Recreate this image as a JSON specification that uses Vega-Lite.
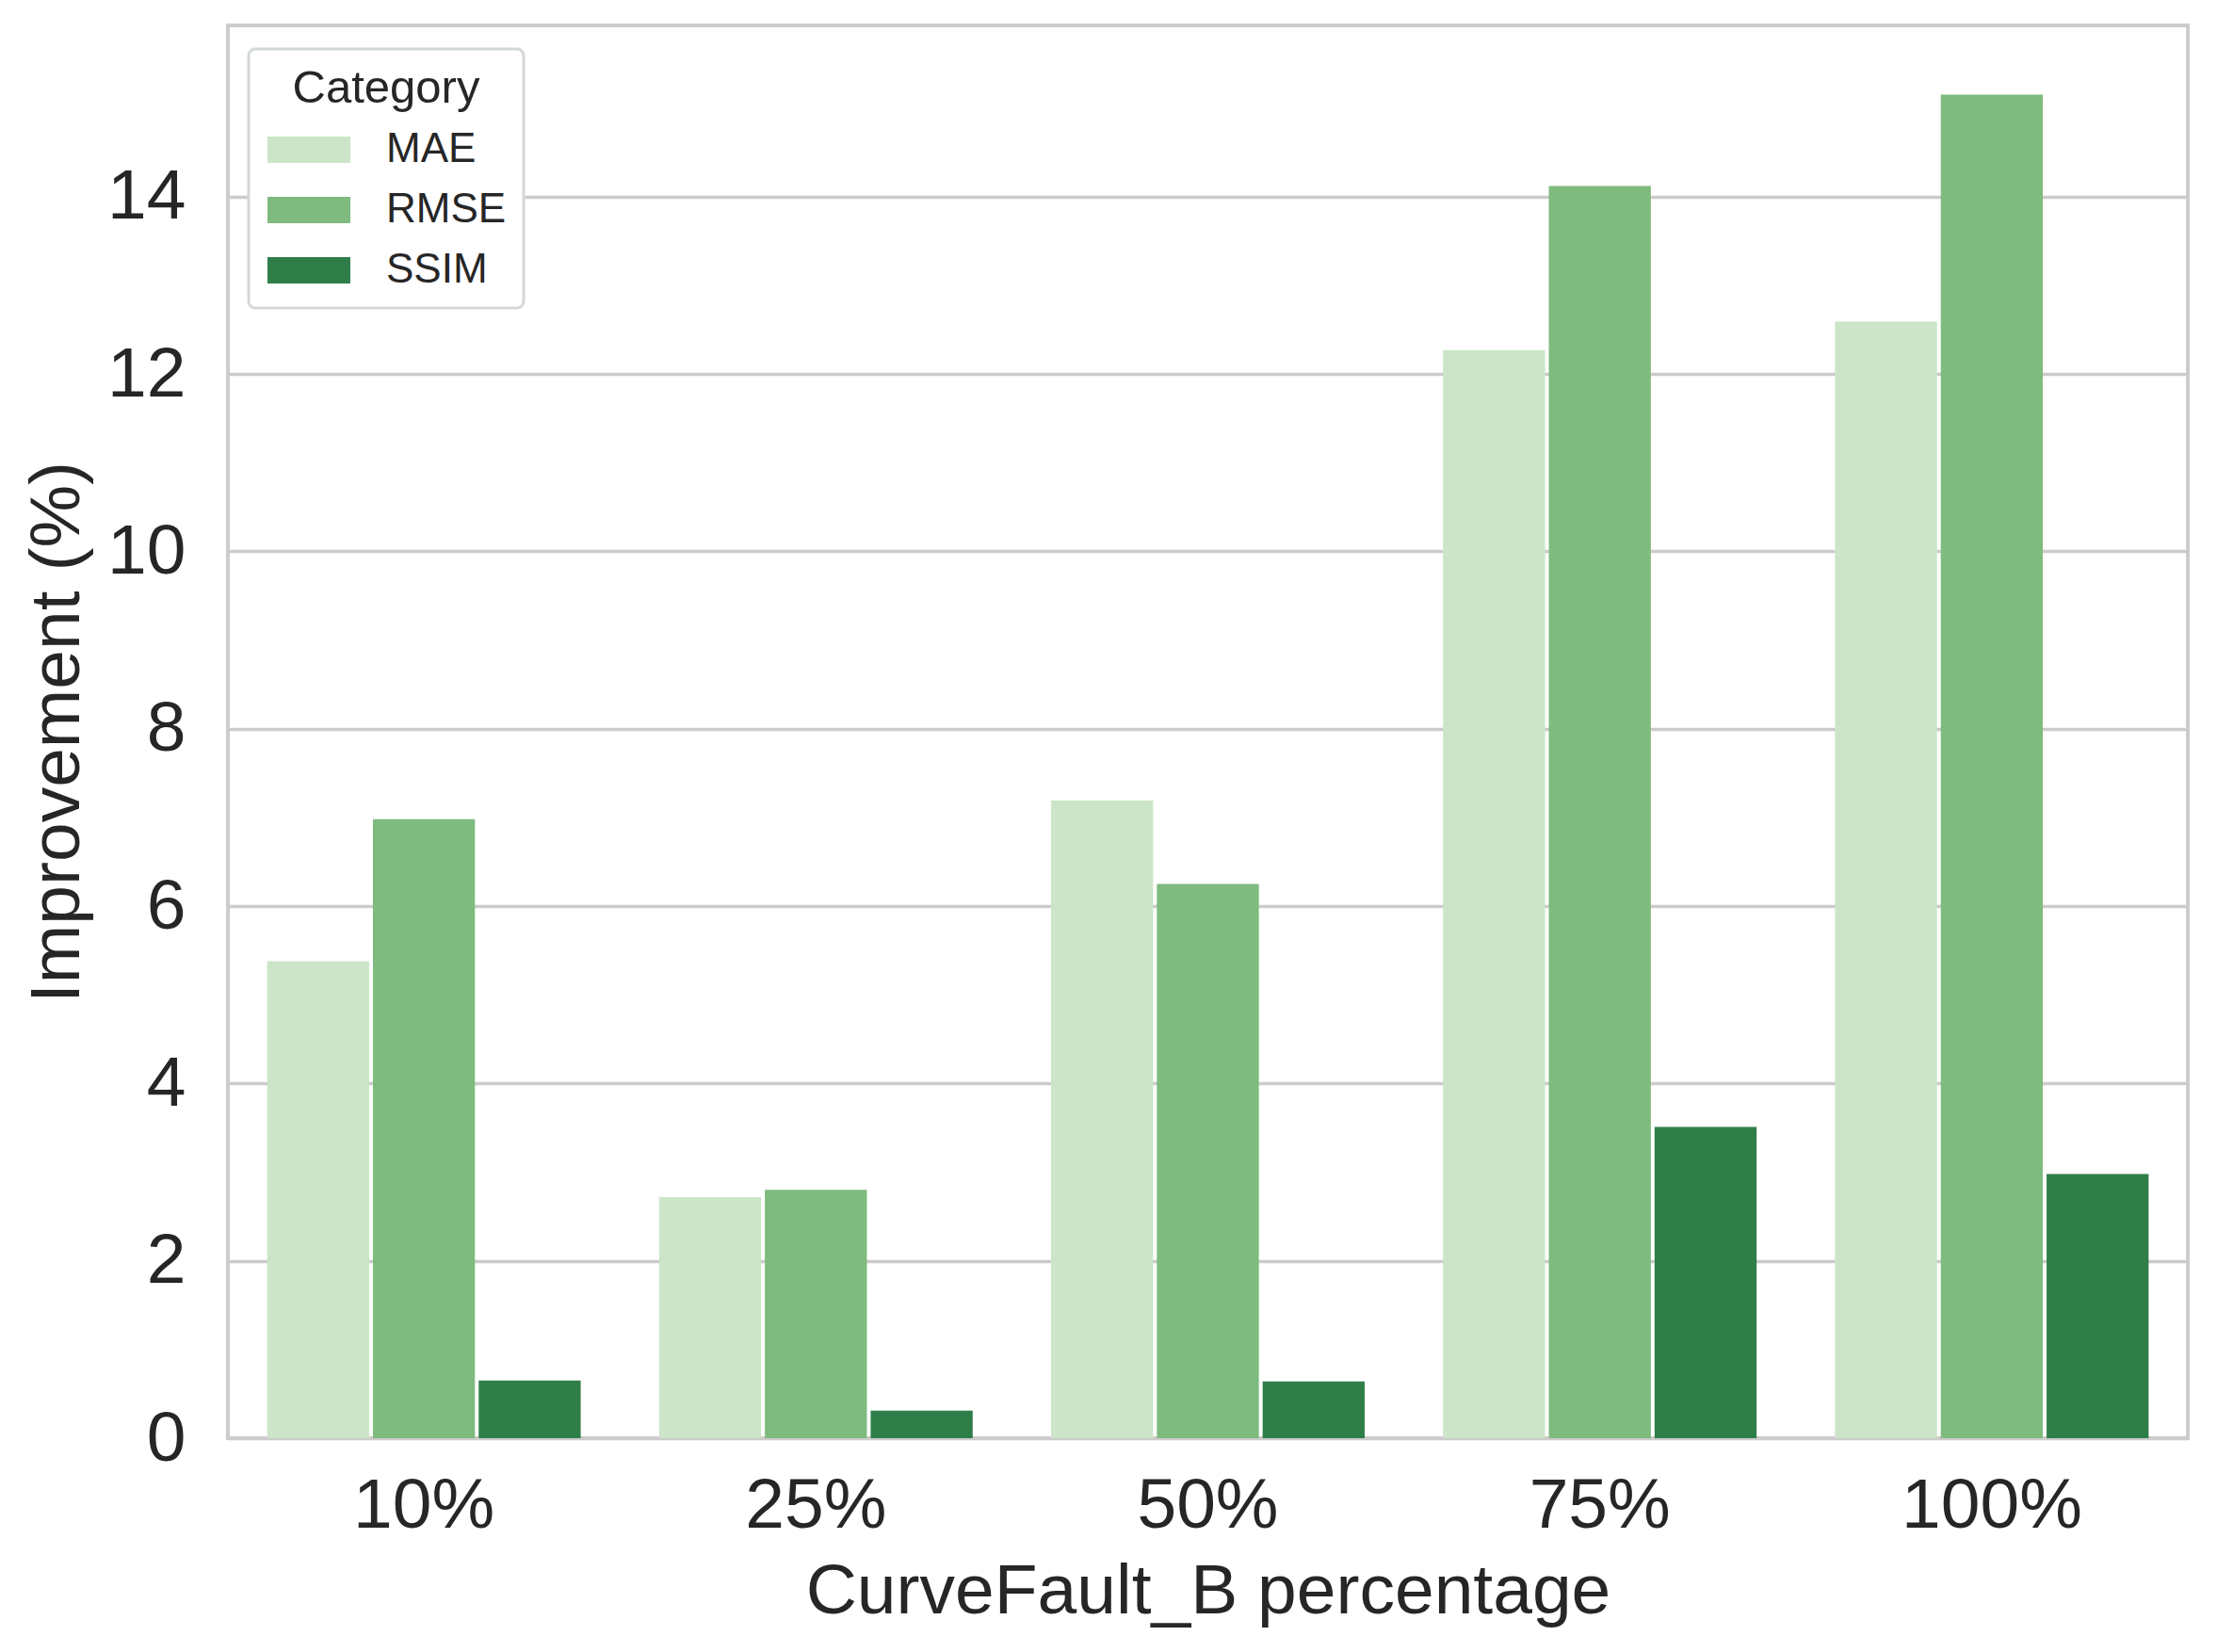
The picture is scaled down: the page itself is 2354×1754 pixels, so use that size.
{
  "$schema": "https://vega.github.io/schema/vega-lite/v6.json",
  "width": 2081,
  "height": 1500,
  "autosize": "none",
  "padding": {"left": 242, "top": 27, "right": 31, "bottom": 227},
  "background": "white",
  "config": {
    "font": "Liberation Sans",
    "view": {"stroke": "#cccccc", "strokeWidth": 4},
    "axis": {
      "labelFont": "Liberation Sans",
      "titleFont": "Liberation Sans",
      "labelColor": "#262626",
      "titleColor": "#262626",
      "labelFontSize": 75,
      "titleFontSize": 75,
      "titleFontWeight": "normal",
      "labelLimit": 0,
      "ticks": false,
      "tickSize": 0,
      "domain": false
    },
    "legend": {
      "labelFont": "Liberation Sans",
      "titleFont": "Liberation Sans"
    }
  },
  "data": {
    "values": [
      {"pct": "10%", "Category": "MAE", "improvement": 5.38},
      {"pct": "10%", "Category": "RMSE", "improvement": 6.98},
      {"pct": "10%", "Category": "SSIM", "improvement": 0.65},
      {"pct": "25%", "Category": "MAE", "improvement": 2.72},
      {"pct": "25%", "Category": "RMSE", "improvement": 2.80},
      {"pct": "25%", "Category": "SSIM", "improvement": 0.31},
      {"pct": "50%", "Category": "MAE", "improvement": 7.19},
      {"pct": "50%", "Category": "RMSE", "improvement": 6.25},
      {"pct": "50%", "Category": "SSIM", "improvement": 0.64},
      {"pct": "75%", "Category": "MAE", "improvement": 12.27},
      {"pct": "75%", "Category": "RMSE", "improvement": 14.12},
      {"pct": "75%", "Category": "SSIM", "improvement": 3.51},
      {"pct": "100%", "Category": "MAE", "improvement": 12.59},
      {"pct": "100%", "Category": "RMSE", "improvement": 15.15},
      {"pct": "100%", "Category": "SSIM", "improvement": 2.98}
    ]
  },
  "mark": {"type": "bar", "opacity": 1},
  "encoding": {
    "x": {
      "field": "pct",
      "type": "nominal",
      "sort": ["10%", "25%", "50%", "75%", "100%"],
      "scale": {"paddingInner": 0.2, "paddingOuter": 0.1},
      "axis": {
        "title": "CurveFault_B percentage",
        "labelAngle": 0,
        "labelPadding": 35,
        "titlePadding": 17,
        "grid": false
      }
    },
    "xOffset": {
      "field": "Category",
      "type": "nominal",
      "sort": ["MAE", "RMSE", "SSIM"],
      "scale": {"paddingInner": 0.0356, "paddingOuter": 0}
    },
    "y": {
      "field": "improvement",
      "type": "quantitative",
      "scale": {"domain": [0, 15.93], "nice": false, "zero": true},
      "axis": {
        "title": "Improvement (%)",
        "values": [0, 2, 4, 6, 8, 10, 12, 14],
        "grid": true,
        "gridColor": "#cccccc",
        "gridWidth": 3.3,
        "labelPadding": 45,
        "titlePadding": 14
      }
    },
    "color": {
      "field": "Category",
      "type": "nominal",
      "sort": ["MAE", "RMSE", "SSIM"],
      "scale": {
        "domain": ["MAE", "RMSE", "SSIM"],
        "range": ["#cce5c8", "#7fba7f", "#2f7e4a"]
      },
      "legend": {
        "orient": "none",
        "legendX": 22,
        "legendY": 25,
        "padding": 18,
        "cornerRadius": 7,
        "fillColor": "white",
        "strokeColor": "#d3d9d3",
        "title": "Category",
        "titleFontSize": 49,
        "titleFontWeight": "normal",
        "titleColor": "#262626",
        "titleAnchor": "middle",
        "titlePadding": 12,
        "titleLimit": 0,
        "labelFontSize": 44,
        "labelColor": "#262626",
        "labelLimit": 0,
        "labelOffset": 72,
        "symbolType": "M-0.929,-0.5H2.214V0.5H-0.929Z",
        "symbolSize": 3136,
        "symbolStrokeWidth": 0,
        "symbolOpacity": 1,
        "rowPadding": 14,
        "encode": {
          "legend": {"update": {"strokeWidth": {"value": 3}}}
        }
      }
    }
  }
}
